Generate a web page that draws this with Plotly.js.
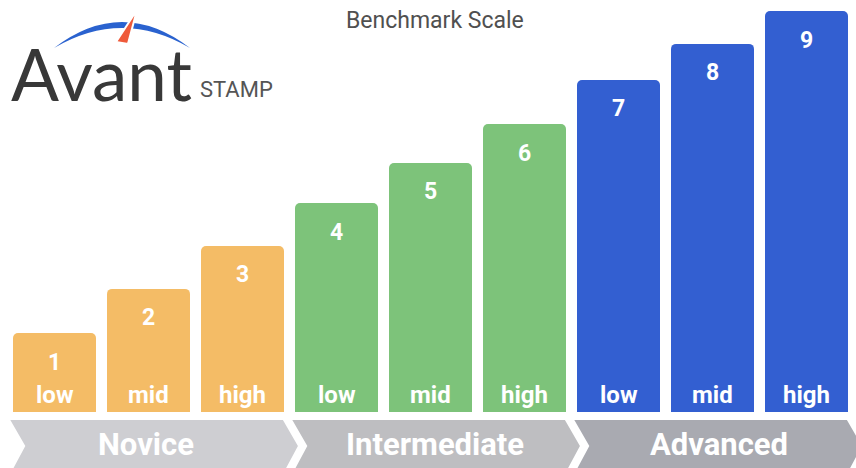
<!DOCTYPE html>
<html>
<head>
<meta charset="utf-8">
<script src="https://cdn.plot.ly/plotly-3.0.1.min.js"></script>
<style>
  html, body { margin: 0; padding: 0; background: #ffffff; }
  #chart { width: 856px; height: 468px; }
</style>
</head>
<body>
<div id="chart"></div>
<script>
// ---- data ----
const levels = [1, 2, 3, 4, 5, 6, 7, 8, 9];
const tiers = ['low', 'mid', 'high', 'low', 'mid', 'high', 'low', 'mid', 'high'];
const barHeights = [1.97, 3.07, 4.14, 5.21, 6.21, 7.18, 8.28, 9.18, 10.0];
const groups = ['Novice', 'Intermediate', 'Advanced'];
const groupOf = [0, 0, 0, 1, 1, 1, 2, 2, 2];
const chartTitle = 'Benchmark Scale';
const logoWord = 'Avant';
const logoSub = 'STAMP';

// ---- styles ----
const groupColors = ['#F4BC66', '#7DC37A', '#335FD1'];
const chevronColors = ['#CECED2', '#BEBEC1', '#A9AAB1'];
const labelShift = [-0.03, 0.05, 0.07];
const W = 856, H = 468;
const pxPerUnitX = 94, pxPerUnitY = 40.1, baselinePx = 412;

function P(x, y) { return (x / W).toFixed(4) + ',' + (1 - y / H).toFixed(4); }
function py(y) { return 1 - y / H; }

const trace = {
  type: 'bar',
  x: levels,
  y: barHeights,
  marker: { color: levels.map((_, i) => groupColors[groupOf[i]]), cornerradius: 5, line: { width: 0 } },
  hoverinfo: 'skip'
};

const annotations = [];
levels.forEach((lv, i) => {
  annotations.push({
    x: lv, y: barHeights[i], xref: 'x', yref: 'y', text: String(lv), showarrow: false,
    yanchor: 'middle', yshift: -29,
    font: { family: 'Roboto', size: 23, color: '#ffffff', weight: 700 }
  });
  annotations.push({
    x: lv, y: 0, xref: 'x', yref: 'y', text: tiers[i], showarrow: false,
    yanchor: 'middle', yshift: 17,
    font: { family: 'Roboto', size: 24, color: '#ffffff', weight: 700 }
  });
});

const shapes = [];
const depth = 15 / pxPerUnitX;
const yTop = py(420), yApex = py(446), yBot = py(474);
groups.forEach((g, gi) => {
  const members = levels.filter((_, i) => groupOf[i] === gi);
  const L = members[0] - 0.47;
  const R = members[members.length - 1] + 0.43;
  shapes.push({
    type: 'path', xref: 'x', yref: 'paper', layer: 'below',
    path: `M ${L},${yTop} L ${R},${yTop} L ${R + depth},${yApex} L ${R},${yBot} L ${L},${yBot} L ${L + depth},${yApex} Z`,
    fillcolor: chevronColors[gi], line: { width: 0 }
  });
  const mid = members[Math.floor(members.length / 2)];
  annotations.push({
    x: mid + labelShift[gi], y: py(444), xref: 'x', yref: 'paper', text: g, showarrow: false,
    yanchor: 'middle',
    font: { family: 'Roboto', size: 31, color: '#ffffff', weight: 700 }
  });
});

// logo arc + needle
shapes.push({
  type: 'path', xref: 'paper', yref: 'paper',
  path: `M ${P(54, 48)} Q ${P(122, -4)} ${P(190, 48)} Q ${P(122, 8)} ${P(54, 48)} Z`,
  fillcolor: '#2A62CF', line: { width: 0 }
});
shapes.push({
  type: 'path', xref: 'paper', yref: 'paper',
  path: `M ${P(137, 10)} L ${P(116, 42)} L ${P(128, 44)} Z`,
  fillcolor: '#EF5A3A', line: { color: '#ffffff', width: 2 }
});

annotations.push({
  x: 435 / W, y: py(21), xref: 'paper', yref: 'paper', text: chartTitle, showarrow: false,
  yanchor: 'middle', xanchor: 'center',
  font: { family: 'Roboto', size: 23, color: '#505050' }
});
annotations.push({
  x: 9 / W, y: py(73), xref: 'paper', yref: 'paper', text: logoWord, showarrow: false,
  yanchor: 'middle', xanchor: 'left',
  font: { family: 'Lato', size: 71, color: '#383838' }
});
annotations.push({
  x: 198 / W, y: py(90), xref: 'paper', yref: 'paper', text: logoSub, showarrow: false,
  yanchor: 'middle', xanchor: 'left',
  font: { family: 'Roboto', size: 22, color: '#555555' }
});

const layout = {
  width: W, height: H,
  margin: { l: 0, r: 0, t: 0, b: 0, pad: 0 },
  paper_bgcolor: '#ffffff', plot_bgcolor: '#ffffff',
  showlegend: false,
  bargap: 1 - 83 / pxPerUnitX,
  xaxis: { range: [1 - 54.5 / pxPerUnitX, 1 + (W - 54.5) / pxPerUnitX], visible: false, fixedrange: true },
  yaxis: { range: [-(H - baselinePx) / pxPerUnitY, baselinePx / pxPerUnitY], visible: false, fixedrange: true },
  shapes: shapes,
  annotations: annotations
};

Plotly.newPlot('chart', [trace], layout, { displayModeBar: false, staticPlot: true });
</script>
</body>
</html>
